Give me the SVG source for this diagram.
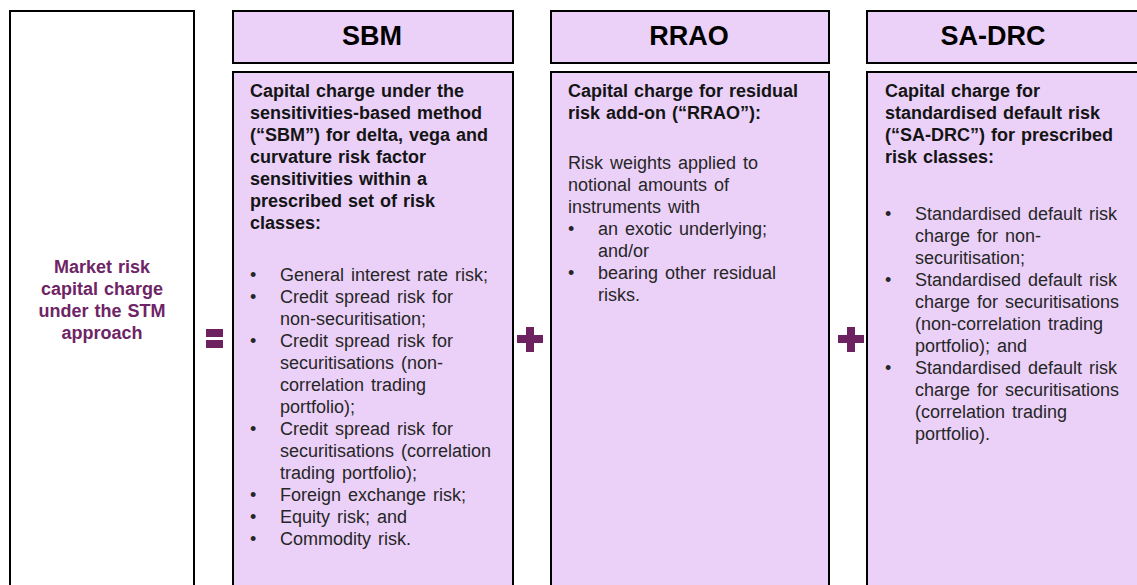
<svg xmlns="http://www.w3.org/2000/svg" width="1137" height="585" viewBox="0 0 1137 585">
<style>
.box{fill:#EBD1F8;stroke:#000;stroke-width:2}
.lbox{fill:#fff;stroke:#000;stroke-width:2}
.hd{font-family:"Liberation Sans",Arial,sans-serif;font-size:27px;font-weight:bold;fill:#000;text-anchor:middle}
.b{font-family:"Liberation Sans",Arial,sans-serif;font-size:18px;font-weight:bold;fill:#141414;word-spacing:1px}
.n{font-family:"Liberation Sans",Arial,sans-serif;font-size:18px;fill:#262626;word-spacing:2px}
.lt{font-family:"Liberation Sans",Arial,sans-serif;font-size:18px;font-weight:bold;fill:#6E2466;text-anchor:middle;word-spacing:1px}
.op{fill:#6E2160}
</style>
<rect width="1137" height="585" fill="#fff"/>
<g id="total">
<rect class="lbox" x="10" y="11" width="184" height="600"/>
<text class="lt" x="102" y="273">Market risk</text>
<text class="lt" x="102" y="295">capital charge</text>
<text class="lt" x="102" y="317">under the STM</text>
<text class="lt" x="102" y="339">approach</text>
</g>
<g id="sbm-header">
<rect class="box" x="233" y="11" width="280" height="52"/>
<text class="hd" x="372" y="45">SBM</text>
</g>
<g id="sbm-body">
<rect class="box" x="233" y="72" width="280" height="540"/>
<text class="b" x="250" y="97">Capital charge under the</text>
<text class="b" x="250" y="119">sensitivities-based  method</text>
<text class="b" x="250" y="141">(“SBM”) for delta, vega and</text>
<text class="b" x="250" y="163">curvature risk factor</text>
<text class="b" x="250" y="185">sensitivities  within a</text>
<text class="b" x="250" y="207">prescribed set of risk</text>
<text class="b" x="250" y="229">classes:</text>
<g class="n">
<text x="250" y="280.5">•</text><text x="280" y="280.5">General interest rate risk;</text>
<text x="250" y="302.5">•</text><text x="280" y="302.5">Credit spread risk for</text>
<text x="280" y="324.5">non-securitisation;</text>
<text x="250" y="346.5">•</text><text x="280" y="346.5">Credit spread risk for</text>
<text x="280" y="368.5">securitisations (non-</text>
<text x="280" y="390.5">correlation trading</text>
<text x="280" y="412.5">portfolio);</text>
<text x="250" y="434.5">•</text><text x="280" y="434.5">Credit spread risk for</text>
<text x="280" y="456.5">securitisations (correlation</text>
<text x="280" y="478.5">trading portfolio);</text>
<text x="250" y="500.5">•</text><text x="280" y="500.5">Foreign exchange  risk;</text>
<text x="250" y="522.5">•</text><text x="280" y="522.5">Equity risk; and</text>
<text x="250" y="544.5">•</text><text x="280" y="544.5">Commodity risk.</text>
</g>
</g>
<g id="rrao-header">
<rect class="box" x="551" y="11" width="278" height="52"/>
<text class="hd" x="689" y="45">RRAO</text>
</g>
<g id="rrao-body">
<rect class="box" x="551" y="72" width="278" height="540"/>
<text class="b" x="568" y="97">Capital charge for residual</text>
<text class="b" x="568" y="119">risk add-on (“RRAO”):</text>
<g class="n">
<text x="568" y="168.5">Risk weights applied to</text>
<text x="568" y="190.5">notional amounts of</text>
<text x="568" y="212.5">instruments with</text>
<text x="568" y="234.5">•</text><text x="598" y="234.5">an exotic underlying;</text>
<text x="598" y="256.5">and/or</text>
<text x="568" y="278.5">•</text><text x="598" y="278.5">bearing other residual</text>
<text x="598" y="300.5">risks.</text>
</g>
</g>
<g id="sadrc-header">
<rect class="box" x="867" y="11" width="290" height="52"/>
<text class="hd" x="993" y="45">SA-DRC</text>
</g>
<g id="sadrc-body">
<rect class="box" x="867" y="72" width="290" height="540"/>
<text class="b" x="885" y="97">Capital charge for</text>
<text class="b" x="885" y="119">standardised default risk</text>
<text class="b" x="885" y="141">(“SA-DRC”) for prescribed</text>
<text class="b" x="885" y="163">risk classes:</text>
<g class="n">
<text x="885" y="220">•</text><text x="915" y="220">Standardised  default risk</text>
<text x="915" y="242">charge for non-</text>
<text x="915" y="264">securitisation;</text>
<text x="885" y="286">•</text><text x="915" y="286">Standardised  default risk</text>
<text x="915" y="308">charge for securitisations</text>
<text x="915" y="330">(non-correlation trading</text>
<text x="915" y="352">portfolio); and</text>
<text x="885" y="374">•</text><text x="915" y="374">Standardised  default risk</text>
<text x="915" y="396">charge for securitisations</text>
<text x="915" y="418">(correlation trading</text>
<text x="915" y="440">portfolio).</text>
</g>
</g>
<g id="operators">
<rect class="op" x="206" y="329" width="17" height="8"/>
<rect class="op" x="206" y="340" width="17" height="8"/>
<rect class="op" x="517" y="335" width="26" height="8"/>
<rect class="op" x="526" y="327" width="8" height="25"/>
<rect class="op" x="838" y="335" width="26" height="8"/>
<rect class="op" x="847" y="327" width="8" height="25"/>
</g>
</svg>
